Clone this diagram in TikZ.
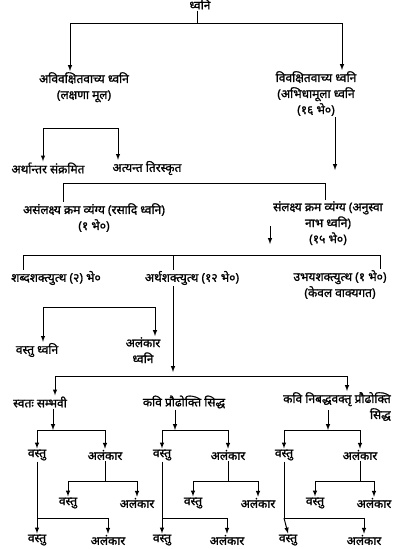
\documentclass[tikz,border=0pt]{standalone}
\usepackage{fontspec}
\newfontfamily\devfont[Script=Devanagari, FakeBold=1.2]{Noto Sans}
\usetikzlibrary{arrows}

\tikzset{
  lbl/.style={font=\devfont\fontsize{12}{16}\selectfont, inner sep=1pt, align=center},
  link/.style={line width=1},
  arr/.style={-latex, line width=1},
}

\begin{document}
\begin{tikzpicture}[x=1pt,y=-1pt]
\useasboundingbox (0,0) rectangle (398,549);

% top
\node[lbl] (root) at (200,4) {ध्वनि};
\coordinate (t0) at (197,23);
\coordinate (tL) at (70,23);
\coordinate (tR) at (342,23);
\draw[link] (root.south -| t0) -- (t0);
\draw[link] (tL) -- (tR);

\node[lbl, anchor=north] (avi) at (84,71) {अविवक्षितवाच्य ध्वनि\\(लक्षणा मूल)};
\node[lbl, anchor=north] (viv) at (316,70) {विवक्षितवाच्य ध्वनि\\(अभिधामूला ध्वनि\\(१६ भे०)};
\draw[arr] (tL) -- (tL |- avi.north);
\draw[arr] (tR) -- (tR |- viv.north);

% lakshana mula
\coordinate (aL) at (43,128);
\coordinate (aR) at (118,128);
\draw[link] (aL) -- (aR);
\node[lbl] (arth) at (48,168) {अर्थान्तर संक्रमित};
\node[lbl] (atya) at (147,168) {अत्यन्त तिरस्कृत};
\draw[arr] (aL) -- (aL |- arth.north);
\draw[arr] (aR) -- (aR |- atya.north);

% abhidha mula
\coordinate (vD) at (335,170);
\draw[arr] (viv.south -| vD) -- (vD);
\coordinate (bL) at (63,183);
\coordinate (bR) at (325,183);
\draw[link] (bL) -- (bR);
\node[lbl, anchor=north] (asam) at (94,202) {असंलक्ष्य क्रम व्यंग्य (रसादि ध्वनि)\\(१ भे०)};
\node[lbl, anchor=north] (sam) at (328,200) {संलक्ष्य क्रम व्यंग्य (अनुस्वा\\नाभ ध्वनि)\\(१५ भे०)};
\draw[link] (bL) -- (bL |- asam.north);
\draw[link] (bR) -- (bR |- sam.north);
\coordinate (sU) at (270,226);
\coordinate (sD) at (270,244);
\draw[arr] (sU) -- (sD);

% shakti
\coordinate (cL) at (23,255);
\coordinate (cM) at (173,255);
\coordinate (cR) at (380,255);
\draw[link] (cL) -- (cR);
\node[lbl] (shabd) at (56,278) {शब्दशक्त्युत्थ (२) भे०};
\node[lbl] (artha) at (192,278) {अर्थशक्त्युत्थ (१२ भे०)};
\node[lbl, anchor=north] (ubh) at (340,269) {उभयशक्त्युत्थ (१ भे०)\\(केवल वाक्यगत)};
\draw[link] (cL) -- (cL |- shabd.north);
\draw[link] (cM) -- (cM |- artha.north);
\draw[link] (cR) -- (cR |- ubh.north);

\coordinate (dL) at (43,307);
\coordinate (dR) at (155,307);
\draw[link] (dL) -- (dR);
\node[lbl] (vdh) at (37,350) {वस्तु ध्वनि};
\node[lbl, anchor=north] (adh) at (143,336) {अलंकार\\ध्वनि};
\draw[arr] (dL) -- (dL |- vdh.north);
\draw[arr] (dR) -- (dR |- adh.north);

\coordinate (mD) at (173,372);
\draw[arr] (artha.south -| mD) -- (mD);

% arthashakti kinds
\coordinate (eL) at (55,376);
\coordinate (eR) at (347,376);
\draw[link] (eL) -- (eR);
\node[lbl] (svt) at (40,402) {स्वतः सम्भवी};
\node[lbl] (kps) at (184,402) {कवि प्रौढोक्ति सिद्ध};
\node[lbl, anchor=north east, align=right] (kns) at (392,391) {कवि निबद्धवक्तृ प्रौढोक्ति\\सिद्ध};
\draw[arr] (eL) -- (eL |- svt.north);
\draw[arr] (eR) -- (eR |- kns.north);

% vyanjaka
\node[lbl] (p1) at (37,455) {वस्तु};
\node[lbl] (p2) at (105,455) {अलंकार};
\node[lbl] (p3) at (162,455) {वस्तु};
\node[lbl] (p4) at (228,455) {अलंकार};
\node[lbl] (p5) at (284,455) {वस्तु};
\node[lbl] (p6) at (360,455) {अलंकार};

\coordinate (fA) at (53,430);
\coordinate (fB) at (175,430);
\coordinate (fC) at (328,430);
\coordinate (fC0) at (328,410);
\draw[arr] (svt.south -| fA) -- (fA);
\draw[arr] (kps.south -| fB) -- (fB);
\draw[arr] (fC0) -- (fC);
\draw[link] (p1 |- fA) -- (p2 |- fA);
\draw[link] (p3 |- fB) -- (p4 |- fB);
\draw[link] (p5 |- fC) -- (p6 |- fC);
\foreach \p/\f in {p1/fA, p2/fA, p3/fB, p4/fB, p5/fC, p6/fC}
  \draw[arr] (\p |- \f) -- (\p.north);

% vyangya
\node[lbl] (u1) at (68,503) {वस्तु};
\node[lbl] (u2) at (137,503) {अलंकार};
\node[lbl] (u3) at (193,503) {वस्तु};
\node[lbl] (u4) at (258,503) {अलंकार};
\node[lbl] (u5) at (315,503) {वस्तु};
\node[lbl] (u6) at (374,503) {अलंकार};
\node[lbl] (b1) at (37,540) {वस्तु};
\node[lbl] (b2) at (108,540) {अलंकार};
\node[lbl] (b3) at (162,540) {वस्तु};
\node[lbl] (b4) at (227,540) {अलंकार};
\node[lbl] (b5) at (288,540) {वस्तु};
\node[lbl] (b6) at (364,540) {अलंकार};

\coordinate (q1) at (37,518);
\coordinate (q2) at (108,518);
\draw[link] (p1.south) -- (q1) -- (q2);
\draw[arr] (q1) -- (b1.north);
\draw[arr] (q2) -- (b2.north);

\coordinate (r0) at (105,481);
\draw[link] (p2.south) -- (r0);
\draw[link] (u1 |- r0) -- (u2 |- r0);
\draw[arr] (u1 |- r0) -- (u1.north);
\draw[arr] (u2 |- r0) -- (u2.north);

\coordinate (s1) at (162,518);
\coordinate (s2) at (227,518);
\draw[link] (p3.south) -- (s1) -- (s2);
\draw[arr] (s1) -- (b3.north);
\draw[arr] (s2) -- (b4.north);

\coordinate (t1) at (228,481);
\draw[link] (p4.south) -- (t1);
\draw[link] (u3 |- t1) -- (u4 |- t1);
\draw[arr] (u3 |- t1) -- (u3.north);
\draw[arr] (u4 |- t1) -- (u4.north);

\coordinate (v1) at (284,518);
\coordinate (v2) at (364,518);
\draw[link] (p5.south) -- (v1) -- (v2);
\draw[arr] (v1) -- (b5.north);
\draw[arr] (v2) -- (b6.north);

\coordinate (w1) at (360,481);
\draw[link] (p6.south) -- (w1);
\draw[link] (u5 |- w1) -- (u6 |- w1);
\draw[arr] (u5 |- w1) -- (u5.north);
\draw[arr] (u6 |- w1) -- (u6.north);
\end{tikzpicture}
\end{document}
